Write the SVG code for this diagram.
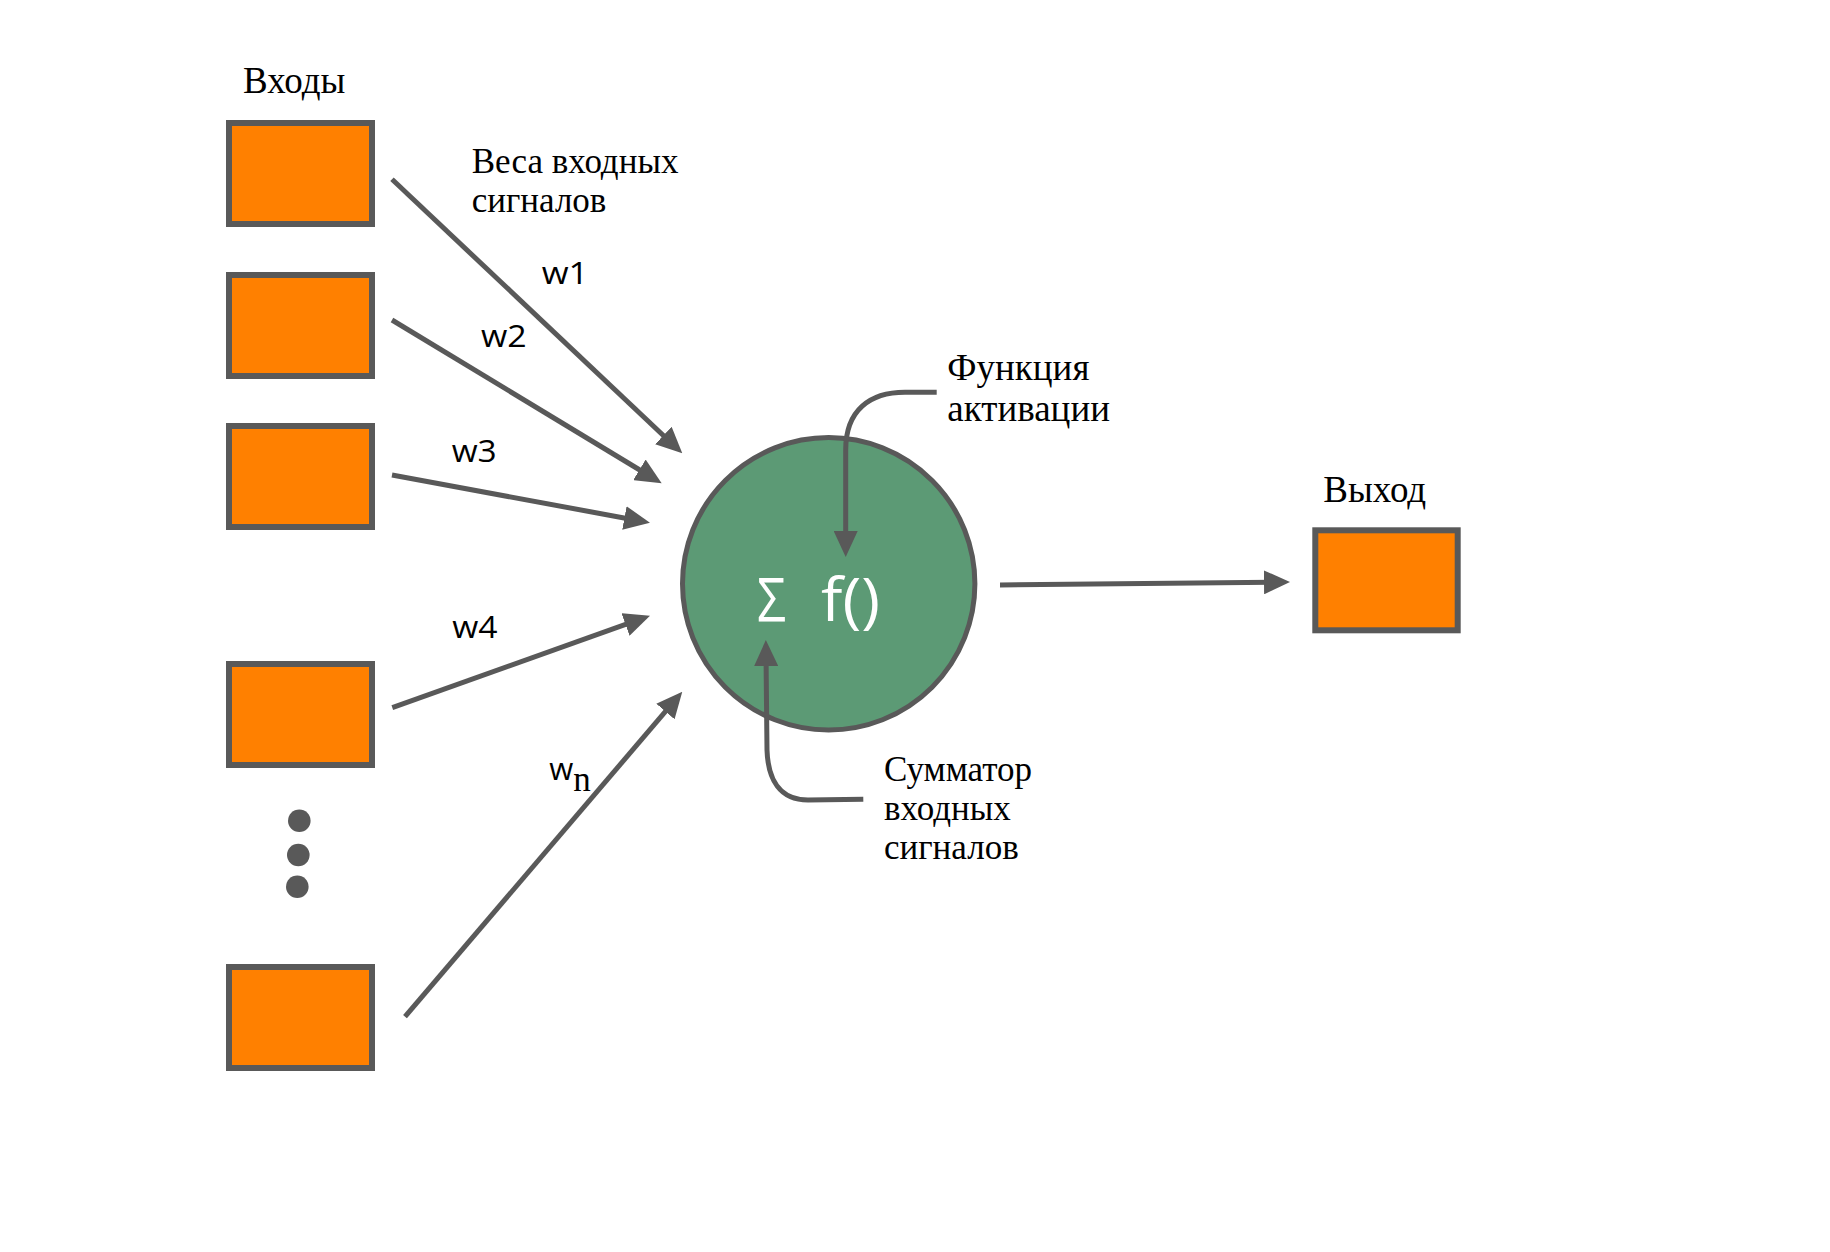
<svg xmlns="http://www.w3.org/2000/svg" width="1830" height="1252" viewBox="0 0 1830 1252">
<style>
.box{fill:#FF8000;stroke:#595959;stroke-width:6}
.conn{fill:none;stroke:#595959;stroke-width:5}
.ser{font-family:"Liberation Serif","DejaVu Serif",serif;font-size:35px;fill:#000}
.big{font-size:37px}
.w{font-family:"Open Sans","Noto Sans",sans-serif;font-size:31px;fill:#000}
.dot{fill:#595959}
</style>
<defs>
<marker id="ah" markerUnits="userSpaceOnUse" markerWidth="26" markerHeight="24" refX="12" refY="12" orient="auto">
<path d="M0,0 L26,12 L0,24 z" fill="#595959"/>
</marker>
</defs>
<rect width="1830" height="1252" fill="#fff"/>
<g id="inputs">
<g id="in1"><rect class="box" x="229" y="123" width="143" height="101"/></g>
<g id="in2"><rect class="box" x="229" y="275" width="143" height="101"/></g>
<g id="in3"><rect class="box" x="229" y="426" width="143" height="101"/></g>
<g id="in4"><rect class="box" x="229" y="664" width="143" height="101"/></g>
<g id="in5"><rect class="box" x="229" y="967" width="143" height="101"/></g>
</g>
<g id="ellipsis">
<circle class="dot" cx="299.3" cy="820.7" r="11.3"/>
<circle class="dot" cx="298.3" cy="855" r="11.3"/>
<circle class="dot" cx="297.3" cy="886.7" r="11.3"/>
</g>
<g id="neuron">
<circle cx="828.7" cy="583.8" r="146.2" fill="#5C9A75" stroke="#595959" stroke-width="5"/>
<text x="757" y="621" font-family="'Open Sans','Noto Sans',sans-serif" font-size="60" fill="#fff" textLength="29" lengthAdjust="spacingAndGlyphs">Σ</text>
<text x="821" y="621" font-family="'Open Sans','Noto Sans',sans-serif" font-size="60" fill="#fff" textLength="59" lengthAdjust="spacingAndGlyphs">f()</text>
</g>
<g id="output">
<rect class="box" x="1315.3" y="530.3" width="142.4" height="100"/>
</g>
<g id="connectors">
<line class="conn" x1="392" y1="179.3" x2="672.1" y2="443.7" marker-end="url(#ah)"/>
<line class="conn" x1="392" y1="320" x2="649.7" y2="476" marker-end="url(#ah)"/>
<line class="conn" x1="392" y1="475" x2="636.2" y2="520.2" marker-end="url(#ah)"/>
<line class="conn" x1="392.3" y1="707.7" x2="636.8" y2="620.4" marker-end="url(#ah)"/>
<line class="conn" x1="405" y1="1016.7" x2="673.2" y2="702.4" marker-end="url(#ah)"/>
<line class="conn" x1="1000" y1="585" x2="1276" y2="582.2" marker-end="url(#ah)"/>
<path class="conn" d="M936.7,392.3 L905,392.3 C870,392.3 845.7,410 845.7,450 L845.7,543" marker-end="url(#ah)"/>
<path class="conn" d="M863.3,799.3 L808,800 C780,800 768,780 767,750 L766,654" marker-end="url(#ah)"/>
</g>
<g id="labels">
<text class="ser big" x="243" y="93">Входы</text>
<text class="ser" x="471.7" y="172.7">Веса входных</text>
<text class="ser" x="471.7" y="212.3">сигналов</text>
<text class="w" x="541.7" y="284.3" textLength="46.7" lengthAdjust="spacingAndGlyphs">w1</text>
<text class="w" x="481" y="346.7" textLength="45.7" lengthAdjust="spacingAndGlyphs">w2</text>
<text class="w" x="451.7" y="461.7" textLength="45" lengthAdjust="spacingAndGlyphs">w3</text>
<text class="w" x="452.3" y="638.3" textLength="45.3" lengthAdjust="spacingAndGlyphs">w4</text>
<text class="w" x="549.3" y="780" textLength="24" lengthAdjust="spacingAndGlyphs">w</text>
<text class="ser" x="573.3" y="790.7" font-size="28">n</text>
<text class="ser big" x="947.3" y="380">Функция</text>
<text class="ser big" x="947.3" y="420.7">активации</text>
<text class="ser big" x="1323.3" y="502.3">Выход</text>
<text class="ser" x="884" y="781">Сумматор</text>
<text class="ser" x="884" y="820">входных</text>
<text class="ser" x="884" y="858.5">сигналов</text>
</g>
</svg>
